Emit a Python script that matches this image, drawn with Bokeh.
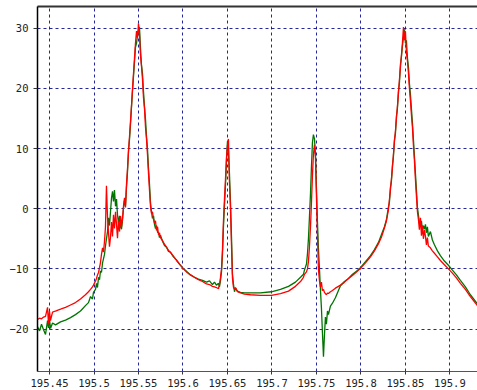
from bokeh.plotting import figure
from bokeh.models import Range1d, FixedTicker, LinearAxis
from bokeh.embed import file_html
from bokeh.resources import INLINE

# Frequency samples (GHz-style axis values) shared by both traces
freq = [
    195.4365, 195.4388, 195.4410, 195.4433, 195.4455, 195.4478, 195.4489, 195.4500,
    195.4511, 195.4534, 195.4567, 195.4624, 195.4680, 195.4736, 195.4792, 195.4848,
    195.4904, 195.4938, 195.4961, 195.4983, 195.4994, 195.5017, 195.5028, 195.5039,
    195.5051, 195.5062, 195.5073, 195.5084, 195.5096, 195.5107, 195.5118, 195.5129,
    195.5140, 195.5152, 195.5163, 195.5174, 195.5185, 195.5197, 195.5208, 195.5219,
    195.5230, 195.5242, 195.5253, 195.5264, 195.5275, 195.5287, 195.5298, 195.5309,
    195.5320, 195.5332, 195.5343, 195.5354, 195.5365, 195.5376, 195.5388, 195.5399,
    195.5410, 195.5421, 195.5433, 195.5444, 195.5455, 195.5466, 195.5478, 195.5489,
    195.5500, 195.5511, 195.5522, 195.5533, 195.5545, 195.5556, 195.5567, 195.5579,
    195.5590, 195.5601, 195.5612, 195.5624, 195.5635, 195.5646, 195.5657, 195.5669,
    195.5680, 195.5691, 195.5702, 195.5714, 195.5725, 195.5736, 195.5747, 195.5770,
    195.5792, 195.5815, 195.5837, 195.5860, 195.5893, 195.5927, 195.5961, 195.5994,
    195.6039, 195.6084, 195.6129, 195.6174, 195.6219, 195.6264, 195.6298, 195.6331,
    195.6354, 195.6376, 195.6399, 195.6410, 195.6421, 195.6433, 195.6444, 195.6455,
    195.6466, 195.6478, 195.6489, 195.6500, 195.6511, 195.6522, 195.6534, 195.6545,
    195.6556, 195.6567, 195.6579, 195.6590, 195.6612, 195.6646, 195.6691, 195.6758,
    195.6871, 195.6994, 195.7096, 195.7186, 195.7264, 195.7321, 195.7354, 195.7365,
    195.7388, 195.7399, 195.7410, 195.7421, 195.7433, 195.7444, 195.7455, 195.7466,
    195.7478, 195.7489, 195.7500, 195.7511, 195.7522, 195.7534, 195.7545, 195.7556,
    195.7567, 195.7579, 195.7590, 195.7601, 195.7612, 195.7624, 195.7635, 195.7657,
    195.7680, 195.7713, 195.7747, 195.7770, 195.7815, 195.7860, 195.7905, 195.7950,
    195.7994, 195.8051, 195.8107, 195.8152, 195.8197, 195.8231, 195.8264, 195.8287,
    195.8309, 195.8320, 195.8331, 195.8343, 195.8354, 195.8365, 195.8376, 195.8388,
    195.8399, 195.8410, 195.8421, 195.8433, 195.8444, 195.8455, 195.8466, 195.8478,
    195.8489, 195.8500, 195.8511, 195.8523, 195.8534, 195.8545, 195.8556, 195.8568,
    195.8579, 195.8590, 195.8601, 195.8612, 195.8624, 195.8635, 195.8646, 195.8657,
    195.8669, 195.8680, 195.8691, 195.8702, 195.8714, 195.8725, 195.8736, 195.8747,
    195.8758, 195.8781, 195.8803, 195.8826, 195.8860, 195.8893, 195.8938, 195.8983,
    195.9028, 195.9073, 195.9118, 195.9174, 195.9230, 195.9309,
]

# Trace A (green)
trace_green = [
    -19.6, -20.3, -19.2, -20.1, -20.9, -18.6, -19.8, -18.4,
    -19.9, -19.0, -19.3, -18.8, -18.5, -18.1, -17.6, -17.0,
    -16.1, -15.6, -14.6, -15.0, -13.9, -13.4, -12.4, -13.1,
    -11.4, -11.8, -10.3, -10.6, -9.0, -8.3, -7.6, -6.2,
    -5.0, -3.8, -1.5, -2.8, -0.6, 1.8, 2.9, 1.2,
    3.1, 0.4, 1.6, -1.0, -2.4, -1.2, -3.0, -3.4,
    -2.0, 0.2, 1.4, 0.5, 3.5, 6.0, 9.8, 11.5,
    14.0, 16.8, 19.6, 22.0, 24.4, 26.8, 27.5, 28.8,
    29.6, 30.2, 26.8, 24.0, 22.4, 19.5, 17.0, 14.8,
    12.0, 10.0, 6.8, 4.0, 1.0, -0.5, -1.6, -1.2,
    -2.6, -3.3, -2.8, -3.9, -4.0, -4.8, -4.4, -5.4,
    -6.1, -6.4, -7.1, -7.2, -8.0, -8.5, -9.2, -9.8,
    -10.4, -11.0, -11.4, -11.7, -11.9, -12.2, -12.0, -12.6,
    -12.2, -12.7, -12.4, -13.0, -12.0, -10.5, -7.5, -3.0,
    0.5, 4.0, 8.0, 11.2, 9.5, 6.0, 1.0, -4.5,
    -10.8, -12.5, -13.8, -13.2, -13.7, -13.9, -14.0, -14.0,
    -14.0, -13.8, -13.4, -12.9, -12.2, -11.4, -10.9, -10.2,
    -9.2, -7.5, -5.0, -1.5, 2.5, 7.0, 11.0, 12.3,
    11.6, 9.0, 3.5, -2.0, -6.5, -10.0, -13.5, -16.5,
    -20.5, -24.6, -21.0, -18.0, -19.2, -17.0, -17.6, -16.2,
    -15.7, -14.8, -13.6, -12.8, -12.1, -11.6, -10.9, -10.4,
    -9.8, -8.8, -7.8, -6.8, -5.6, -4.3, -3.0, -1.8,
    0.3, 1.0, 3.5, 4.6, 7.2, 8.6, 11.4, 12.5,
    15.4, 16.6, 19.5, 21.0, 24.0, 25.2, 27.0, 28.5,
    29.8, 27.5, 28.0, 25.0, 23.5, 20.8, 19.0, 16.5,
    14.2, 11.5, 8.8, 6.0, 3.0, 0.2, -1.0, -2.4,
    -3.0, -2.0, -3.6, -2.8, -3.4, -2.6, -4.0, -3.0,
    -4.6, -3.8, -5.2, -6.0, -7.0, -7.8, -8.7, -9.4,
    -10.2, -11.0, -11.9, -13.0, -14.3, -15.8,
]

# Trace B (red)
trace_red = [
    -18.4, -18.2, -18.3, -18.0, -17.9, -16.4, -19.2, -17.0,
    -18.6, -17.2, -17.0, -16.7, -16.4, -16.0, -15.6, -15.0,
    -14.3, -13.8, -13.4, -13.0, -12.7, -12.0, -11.6, -11.0,
    -10.6, -9.8, -8.9, -7.6, -6.5, -7.2, -5.4, -3.0,
    3.8, -1.5, -4.0, -6.3, -4.8, -2.2, -4.6, -1.0,
    -3.3, -0.5, -2.6, -4.9, -2.0, -3.8, -1.2, -3.0,
    -1.6, 0.5, 1.8, 0.2, 4.0, 6.5, 9.5, 12.0,
    14.5, 17.0, 20.0, 22.5, 25.0, 27.5, 29.5, 28.4,
    30.8, 29.0, 25.5, 23.8, 21.5, 18.5, 16.8, 13.5,
    11.6, 9.0, 6.0, 3.0, 0.4, -0.8, -0.5, -1.8,
    -2.4, -2.0, -3.6, -3.0, -4.3, -4.0, -4.8, -5.3,
    -5.9, -6.4, -6.9, -7.3, -7.9, -8.6, -9.2, -9.8,
    -10.5, -11.0, -11.4, -11.8, -12.1, -12.5, -12.6, -12.9,
    -13.0, -13.1, -13.3, -12.6, -11.5, -10.0, -6.8, -2.0,
    1.5, 5.0, 8.5, 10.5, 11.6, 4.5, 0.0, -6.0,
    -11.5, -13.0, -13.4, -13.1, -13.8, -14.0, -14.2, -14.3,
    -14.4, -14.4, -14.1, -13.7, -12.9, -12.1, -11.4, -10.9,
    -10.5, -10.0, -8.8, -6.5, -3.0, 1.0, 5.5, 9.0,
    10.6, 8.5, 2.0, -4.0, -10.0, -12.0, -13.0, -12.2,
    -13.6, -13.4, -13.9, -14.1, -14.3, -14.0, -14.1, -13.8,
    -13.6, -13.2, -12.9, -12.7, -12.2, -11.6, -11.1, -10.5,
    -9.9, -9.0, -8.0, -7.0, -5.8, -4.7, -3.2, -2.0,
    -0.2, 1.5, 3.0, 5.0, 6.8, 9.0, 11.0, 13.0,
    15.0, 17.0, 19.0, 21.5, 23.5, 25.5, 27.5, 30.2,
    28.0, 29.5, 26.0, 24.5, 22.5, 20.0, 18.0, 15.5,
    13.5, 10.5, 8.0, 5.0, 2.0, -0.5, -1.8, -3.5,
    -1.5, -4.5, -2.8, -5.0, -3.5, -4.6, -6.0, -4.8,
    -6.2, -6.5, -7.0, -7.4, -8.0, -8.6, -9.3, -10.0,
    -10.7, -11.5, -12.4, -13.4, -14.6, -16.1,
]

x_ticks = [195.45, 195.5, 195.55, 195.6, 195.65, 195.7, 195.75, 195.8, 195.85, 195.9]
y_ticks = [-20, -10, 0, 10, 20, 30]

p = figure(
    width=477, height=390,
    output_backend="svg", toolbar_location=None,
    x_range=Range1d(195.4365, 195.931),
    y_range=Range1d(-27.05, 33.6),
    min_border_left=37, min_border_right=0,
    min_border_top=6, min_border_bottom=19,
)
p.background_fill_color = "white"
p.border_fill_color = "white"
p.outline_line_color = None

p.line(freq, trace_green, line_color="#007400", line_width=1.3)
p.line(freq, trace_red, line_color="#ff0000", line_width=1.3)

p.xaxis.ticker = FixedTicker(ticks=x_ticks)
p.yaxis.ticker = FixedTicker(ticks=y_ticks)
p.xaxis.major_label_overrides = {t: f"{t:g}" for t in x_ticks}

for ax in (p.xaxis[0], p.yaxis[0]):
    ax.major_label_text_font = "DejaVu Sans Mono"
    ax.major_label_text_font_size = "10.5px"
    ax.major_label_text_color = "#222222"
    ax.minor_tick_line_color = None
    ax.major_tick_in = 0
    ax.major_tick_line_color = "#333333"

p.yaxis.major_tick_out = 4
p.yaxis.major_label_standoff = 5
p.yaxis.axis_line_color = "#000000"
p.yaxis.axis_line_width = 1.5
p.xaxis.major_tick_out = 3
p.xaxis.major_label_standoff = 4
p.xaxis.axis_line_color = "#555555"
p.xaxis.axis_line_width = 1.2

# Top frame edge
top = LinearAxis(ticker=FixedTicker(ticks=[]), axis_line_color="#333333",
                 axis_line_width=2, major_tick_line_color=None,
                 minor_tick_line_color=None, major_label_text_font_size="0px")
p.add_layout(top, "above")

for g in (p.xgrid[0], p.ygrid[0]):
    g.grid_line_color = "#00008b"
    g.grid_line_dash = "3 3"
    g.grid_line_width = 1
    g.grid_line_alpha = 0.85

open("out.html", "w").write(file_html(p, INLINE))
